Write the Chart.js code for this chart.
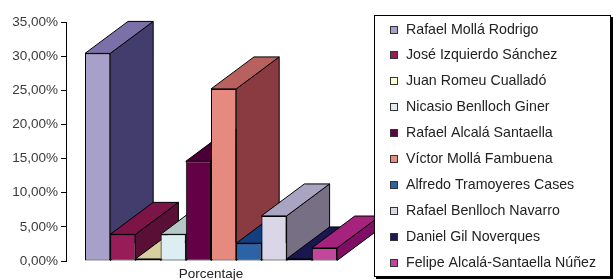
<!DOCTYPE html>
<html>
<head>
<meta charset="utf-8">
<script src="https://cdn.jsdelivr.net/npm/chart.js@4.4.1/dist/chart.umd.min.js"></script>
<style>
  html, body { margin: 0; padding: 0; background: #fff; }
</style>
</head>
<body>
<canvas id="porcentajeChart" width="613" height="280"></canvas>
<script>
const categories = ['Porcentaje'];
const names = [
    'Rafael Mollá Rodrigo',
    'José Izquierdo Sánchez',
    'Juan Romeu Cualladó',
    'Nicasio Benlloch Giner',
    'Rafael Alcalá Santaella',
    'Víctor Mollá Fambuena',
    'Alfredo Tramoyeres Cases',
    'Rafael Benlloch Navarro',
    'Daniel Gil Noverques',
    'Felipe Alcalá-Santaella Núñez'
];
const values = [30.4, 3.9, 0.3, 3.9, 14.6, 25.2, 2.6, 6.6, 0.3, 1.9]; // %
const yTicks = [0, 5, 10, 15, 20, 25, 30, 35];

// face colours (front / top / side), excel-ish 3d shading
const frontColors = ['#a7a0c9', '#981c58', '#fffdd0', '#ddeef2', '#640046', '#e68a80', '#2c62a6', '#dad6e8', '#1e1a58', '#c2479b'];
const topColors   = ['#7c70a8', '#7d1447', '#d6cfa0', '#b4c8c8', '#4a0036', '#b9615e', '#133f7f', '#a9a4c2', '#1a1650', '#a5237d'];
const sideColors  = ['#433d6d', '#5a1036', '#8c8860', '#7a8c8c', '#3c002c', '#8a3b41', '#0f2e5e', '#777085', '#120f3a', '#7f0f64'];

const depth = { dx: 43, dy: 32 };
const fontFamily = 'Arial, "Liberation Sans", sans-serif';

// draws top and side faces behind the fronts, left to right
const bar3d = {
    id: 'bar3d',
    beforeDatasetsDraw(chart) {
        const ctx = chart.ctx;
        ctx.save();
        ctx.lineWidth = 1;
        ctx.strokeStyle = '#000';
        ctx.lineJoin = 'round';
        chart.data.datasets.forEach((ds, i) => {
            const bar = chart.getDatasetMeta(i).data[0];
            const left = bar.x - bar.width / 2;
            const right = bar.x + bar.width / 2;
            const top = bar.y;
            const base = bar.base;
            // side
            ctx.beginPath();
            ctx.moveTo(right, top);
            ctx.lineTo(right + depth.dx, top - depth.dy);
            ctx.lineTo(right + depth.dx, base - depth.dy);
            ctx.lineTo(right, base);
            ctx.closePath();
            ctx.fillStyle = sideColors[i];
            ctx.fill();
            ctx.stroke();
            // top
            ctx.beginPath();
            ctx.moveTo(left, top);
            ctx.lineTo(left + depth.dx, top - depth.dy);
            ctx.lineTo(right + depth.dx, top - depth.dy);
            ctx.lineTo(right, top);
            ctx.closePath();
            ctx.fillStyle = topColors[i];
            ctx.fill();
            ctx.stroke();
        });
        ctx.restore();
    }
};

// boxed legend with shadow, drawn over the bars
const boxLegend = {
    id: 'boxLegend',
    afterDraw(chart) {
        const ctx = chart.ctx;
        const L = 374, T = 15, R = 611, B = 277;
        ctx.save();
        ctx.fillStyle = '#000';
        ctx.fillRect(L + 2, T + 2, R - L, B - T);
        ctx.fillStyle = '#fff';
        ctx.fillRect(L, T, R - L, B - T);
        ctx.strokeStyle = '#000';
        ctx.lineWidth = 1;
        ctx.strokeRect(L + 0.5, T + 0.5, R - L - 1, B - T - 1);
        ctx.font = '14.2px ' + fontFamily;
        ctx.textBaseline = 'middle';
        chart.data.datasets.forEach((ds, i) => {
            const y = Math.round(29.5 + i * 25.9);
            ctx.fillStyle = frontColors[i];
            ctx.fillRect(390.5, y - 3.5, 7, 7);
            ctx.strokeStyle = '#333';
            ctx.strokeRect(390.5, y - 3.5, 7, 7);
            ctx.fillStyle = '#222';
            ctx.fillText(ds.label, 406, y + 0.5);
        });
        ctx.restore();
    }
};

const datasets = names.map((name, i) => ({
    label: name,
    data: [values[i]],
    backgroundColor: frontColors[i],
    borderColor: '#000',
    borderWidth: 1,
    borderSkipped: false
}));

new Chart(document.getElementById('porcentajeChart'), {
    type: 'bar',
    data: { labels: categories, datasets: datasets },
    options: {
        responsive: false,
        animation: false,
        devicePixelRatio: 1,
        clip: false,
        categoryPercentage: 0.869,
        barPercentage: 1,
        layout: { padding: { top: 22, right: 257, bottom: 0, left: 0 } },
        plugins: {
            legend: { display: false },
            tooltip: { enabled: false }
        },
        scales: {
            x: {
                grid: { display: false, drawTicks: false },
                border: { display: false },
                ticks: { padding: 5, color: '#222', font: { family: fontFamily, size: 13.5 } },
                afterFit(s) { s.height = 19; }
            },
            y: {
                min: 0,
                max: 35,
                afterBuildTicks(s) { s.ticks = yTicks.map(v => ({ value: v })); },
                ticks: {
                    padding: 3,
                    color: '#3a3a3a',
                    font: { family: fontFamily, size: 13.5 },
                    callback: v => v.toFixed(2).replace('.', ',') + '%'
                },
                grid: { drawOnChartArea: false, drawTicks: true, tickLength: 5, color: '#000' },
                border: { color: '#000', width: 1 },
                afterFit(s) { s.width = 66; }
            }
        }
    },
    plugins: [bar3d, boxLegend]
});
</script>
</body>
</html>
